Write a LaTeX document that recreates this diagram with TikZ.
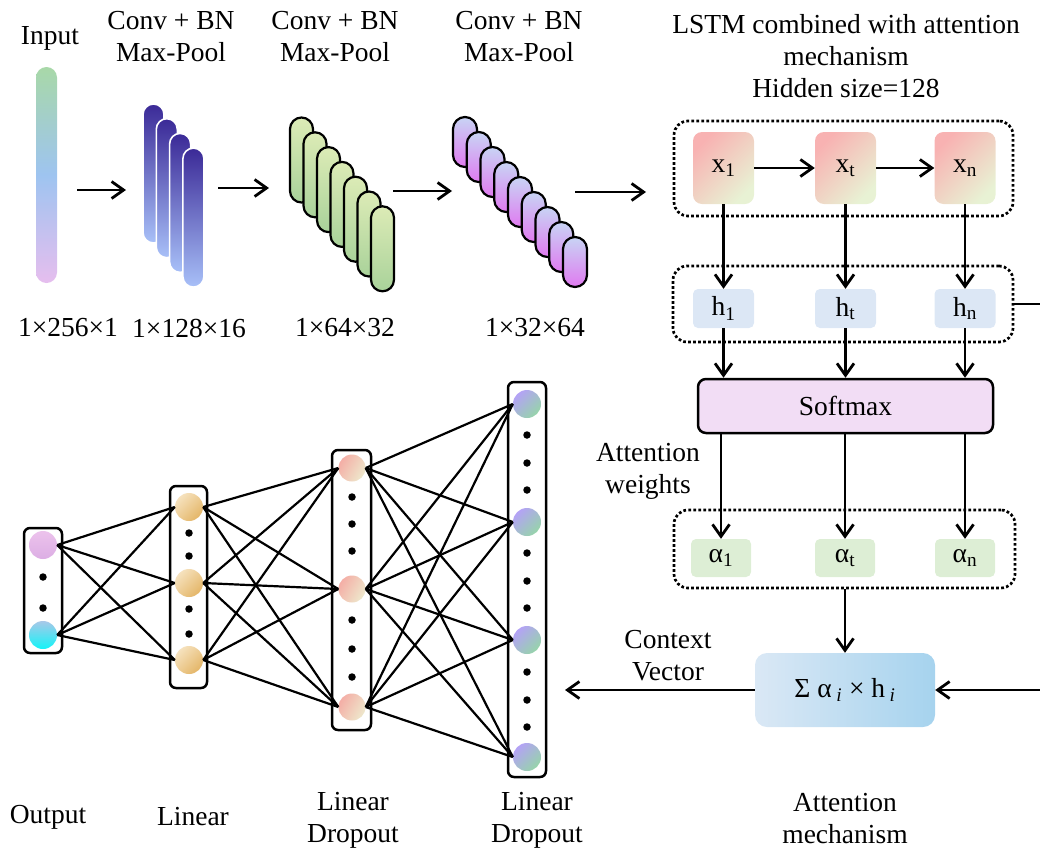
\documentclass[tikz,border=0pt]{standalone}
\usepackage{fontspec}
\setmainfont{Liberation Serif}
\usetikzlibrary{arrows.meta}

% palette
\definecolor{inTop}{HTML}{A8D8A8}
\definecolor{inMid}{HTML}{9EC4F0}
\definecolor{inBot}{HTML}{E6BEEE}
\definecolor{bluTop}{HTML}{3B2A97}
\definecolor{bluBot}{HTML}{A8C0F8}
\definecolor{grnTop}{HTML}{DCEBB6}
\definecolor{grnBot}{HTML}{A9D29A}
\definecolor{purTop}{HTML}{C8D4F4}
\definecolor{purBot}{HTML}{E07AF0}
\definecolor{xTop}{HTML}{F8B2B2}
\definecolor{xBot}{HTML}{E8F2D4}
\definecolor{hFill}{HTML}{DCE7F5}
\definecolor{aFill}{HTML}{DDEED5}
\definecolor{smFill}{HTML}{F2DDF5}
\definecolor{sumL}{HTML}{DAE8F5}
\definecolor{sumR}{HTML}{A6D3EE}
\definecolor{oTop}{HTML}{ECC2EC}
\definecolor{oBot}{HTML}{DCAEE4}
\definecolor{cyTop}{HTML}{A8C8E8}
\definecolor{cyBot}{HTML}{12F4F8}
\definecolor{orTop}{HTML}{F6E2BE}
\definecolor{orBot}{HTML}{E4B668}
\definecolor{saTop}{HTML}{F4AEA6}
\definecolor{saBot}{HTML}{EEE8CC}
\definecolor{lvTop}{HTML}{B4A2F6}
\definecolor{lvBot}{HTML}{96D4AA}

\begin{document}
\begin{tikzpicture}[x=1pt,y=-1pt,
  font=\fontsize{27.5}{32}\selectfont,
  every node/.style={inner sep=0pt},
  arr/.style={line width=2.8pt,-{Straight Barb[length=12pt,width=17pt]}},
  nnline/.style={line width=2.2pt},
  grp/.style={draw,line width=2.7pt,dash pattern=on 2.7pt off 2.3pt,rounded corners=14pt},
  xbox/.style={minimum width=61pt,minimum height=72pt,rounded corners=9pt,
    top color=xTop,bottom color=xBot,shading angle=45},
  hbox/.style={fill=hFill,minimum width=61pt,minimum height=39pt,rounded corners=5pt},
  abox/.style={fill=aFill,minimum width=60pt,minimum height=38pt,rounded corners=5pt},
  barA/.style={minimum width=21pt,minimum height=139pt,rounded corners=10.5pt,
    top color=bluTop,bottom color=bluBot,draw=white,line width=1.6pt},
  barB/.style={minimum width=23pt,minimum height=85pt,rounded corners=11.5pt,
    top color=grnTop,bottom color=grnBot,draw=black,line width=2.2pt},
  barC/.style={minimum width=24pt,minimum height=50pt,rounded corners=12pt,
    top color=purTop,bottom color=purBot,draw=black,line width=2.2pt},
  layerbox/.style={draw,fill=white,line width=2.5pt,rounded corners=6pt},
  neuron/.style={circle,minimum size=28pt},
  ndot/.style={circle,fill=black,minimum size=7.5pt},
]
\useasboundingbox (0,0) rectangle (1040,849);
\clip (0,0) rectangle (1040,849);

% ---------------- titles of the convolution part ----------------
\node (tIn) at (50,38) {Input};
\node[align=center] (tC1) at (171,37) {Conv + BN\\Max-Pool};
\node[align=center] (tC2) at (335,37) {Conv + BN\\Max-Pool};
\node[align=center] (tC3) at (519,37) {Conv + BN\\Max-Pool};
\node[align=center] (tL) at (846,56) {LSTM combined with attention\\mechanism\\Hidden size=128};

% ---------------- input vector and feature maps ----------------
\node[minimum width=21pt,minimum height=216pt,rounded corners=10.5pt,
  top color=inTop,bottom color=inBot,middle color=inMid] (inbar) at (46.5,175) {};

\foreach \i in {0,...,3}
  \node[barA] (sA\i) at ({153.5+13.3*\i},{173.5+14.7*\i}) {};
\foreach \i in {0,...,6}
  \node[barB] (sB\i) at ({301.5+13.5*\i},{160+14.8*\i}) {};
\foreach \i in {0,...,8}
  \node[barC] (sC\i) at ({465+13.75*\i},{142+15*\i}) {};

\coordinate (q1s) at (77,190);  \coordinate (q1e) at (126,190);
\coordinate (q2s) at (218,188); \coordinate (q2e) at (269,188);
\coordinate (q3s) at (393,191); \coordinate (q3e) at (452,191);
\coordinate (q4s) at (575,192); \coordinate (q4e) at (646,192);
\draw[arr] (q1s) -- (q1e);
\draw[arr] (q2s) -- (q2e);
\draw[arr] (q3s) -- (q3e);
\draw[arr] (q4s) -- (q4e);

\node (d1) at (68,328) {1×256×1};
\node (d2) at (189,328) {1×128×16};
\node (d3) at (345,328) {1×64×32};
\node (d4) at (535,328) {1×32×64};

% ---------------- LSTM with attention ----------------
\node[grp,minimum width=339pt,minimum height=95pt] (xgrp) at (843.5,168.5) {};
\node[grp,minimum width=340pt,minimum height=76pt] (hgrp) at (843,304) {};
\node[grp,minimum width=341pt,minimum height=78pt] (agrp) at (844.5,549) {};

\node[xbox] (x1) at (723.5,168) {x\textsubscript{1}};
\node[xbox] (xt) at (845.5,168) {x\textsubscript{t}};
\node[xbox] (xn) at (965,168) {x\textsubscript{n}};

\node[hbox] (h1) at (723.5,308.5) {h\textsubscript{1}};
\node[hbox] (ht) at (845.5,308.5) {h\textsubscript{t}};
\node[hbox] (hn) at (965,308.5) {h\textsubscript{n}};

\node[draw,fill=smFill,line width=2.5pt,rounded corners=8pt,
  minimum width=295pt,minimum height=54pt] (soft) at (845.5,406) {Softmax};

\node[abox] (a1) at (721,558) {α\textsubscript{1}};
\node[abox] (at) at (845,558) {α\textsubscript{t}};
\node[abox] (an) at (965,558) {α\textsubscript{n}};

\node[minimum width=180pt,minimum height=74pt,rounded corners=12pt,
  left color=sumL,right color=sumR] (sum) at (845,690)
  {Σ α\,\textsubscript{\textit{i}} × h\,\textsubscript{\textit{i}}};

\draw[arr] (x1) -- (xt);
\draw[arr] (xt) -- (xn);
\foreach \n in {1,t,n}{
  \draw[arr] (x\n.south) -- (h\n.north);
  \draw[arr] (h\n.south) -- (h\n.south |- soft.north);
}
\draw[arr] (a1.north |- soft.south) -- (a1.north);
\draw[arr] (at.north |- soft.south) -- (at.north);
\draw[arr] (an.north |- soft.south) -- (an.north);
\draw[arr] (agrp.south -| sum.north) -- (sum.north);

% hidden states are carried round the right-hand side into the weighted sum
\coordinate (rim) at (1046,0);
\draw[arr] (hgrp.east) -- (hgrp.east -| rim) |- (sum.east);

\node[align=center] (lw) at (648,471) {Attention\\weights};
\node[align=center] (lc) at (668,656) {Context\\Vector};

% ---------------- fully connected head ----------------
\node[layerbox,minimum width=38pt,minimum height=125pt] (B1) at (43,590.5) {};
\node[layerbox,minimum width=37pt,minimum height=202pt] (B2) at (188.5,587) {};
\node[layerbox,minimum width=39pt,minimum height=280pt] (B3) at (351.5,590) {};
\node[layerbox,minimum width=38pt,minimum height=395pt] (B4) at (527,579.5) {};

\coordinate (ctxend) at (565,690);
\draw[arr] (sum.west) -- (ctxend);

\node[neuron,top color=oTop,bottom color=oBot] (o1) at (43,545) {};
\node[neuron,top color=cyTop,bottom color=cyBot] (o2) at (43,635) {};
\foreach \y [count=\k] in {507,583,660}
  \node[neuron,top color=orTop,bottom color=orBot,shading angle=45] (l\k) at (189,\y) {};
\foreach \y [count=\k] in {468,589,707}
  \node[neuron,minimum size=27pt,top color=saTop,bottom color=saBot,shading angle=60] (m\k) at (352,\y) {};
\foreach \y [count=\k] in {404,522,640,757}
  \node[neuron,top color=lvTop,bottom color=lvBot,shading angle=45] (r\k) at (527,\y) {};

\foreach \y [count=\k] in {577,608}
  \node[ndot] (do\k) at (43,\y) {};
\foreach \y [count=\k] in {533,556,609,634}
  \node[ndot] (dl\k) at (189,\y) {};
\foreach \y [count=\k] in {497,524,551,620,649,677}
  \node[ndot] (dm\k) at (352,\y) {};
\foreach \y [count=\k] in {435,463,490,553,581,608,672,700,727}
  \node[ndot] (dr\k) at (527,\y) {};

\foreach \a in {1,2}
  \foreach \b in {1,2,3}
    \draw[nnline] (o\a.east) -- (l\b.west);
\foreach \a in {1,2,3}
  \foreach \b in {1,2,3}
    \draw[nnline] (l\a.east) -- (m\b.west);
\foreach \a in {1,2,3}
  \foreach \b in {1,2,3,4}
    \draw[nnline] (m\a.east) -- (r\b.west);

% ---------------- bottom captions ----------------
\node (cOut) at (48,817) {Output};
\node (cLin) at (193,817) {Linear};
\node[align=center] (cD1) at (353,820) {Linear\\Dropout};
\node[align=center] (cD2) at (537,820) {Linear\\Dropout};
\node[align=center] (cAtt) at (845,819) {Attention\\mechanism};
\end{tikzpicture}
\end{document}
